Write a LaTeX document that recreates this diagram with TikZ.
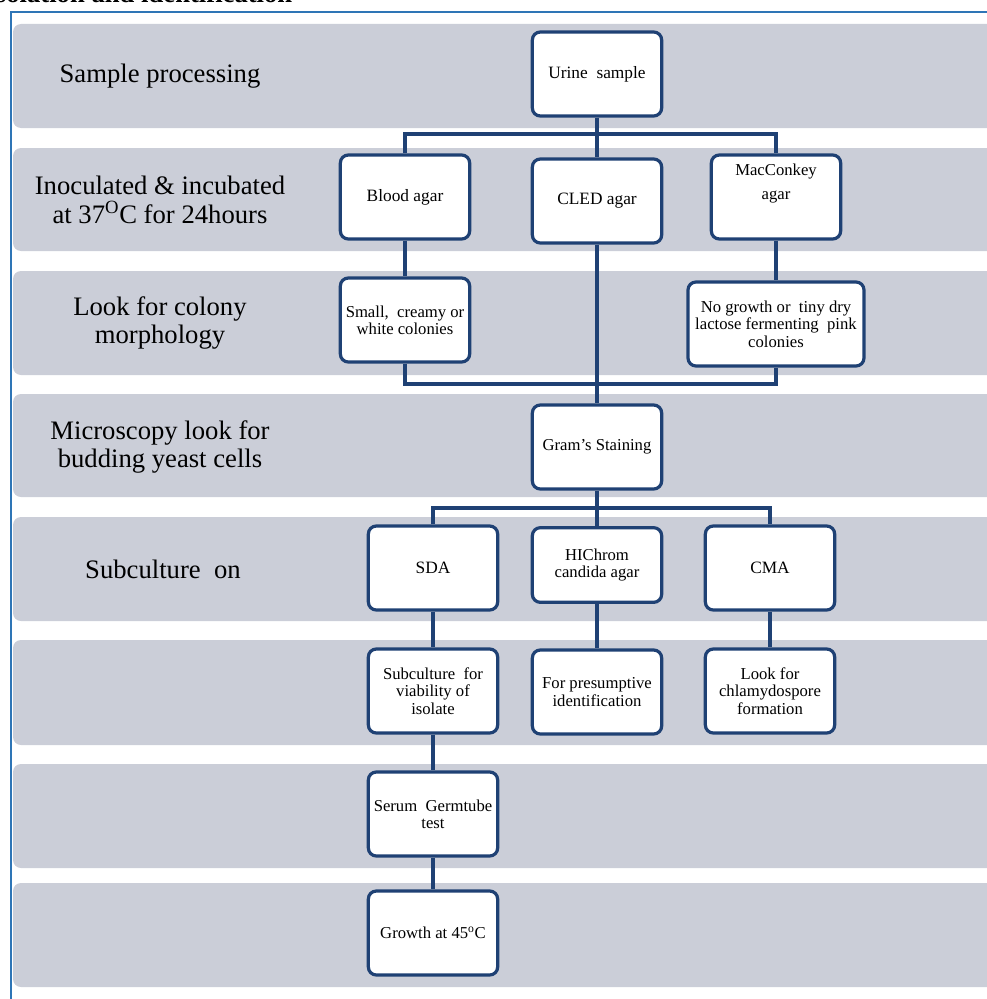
\documentclass[tikz,border=0pt]{standalone}
\usepackage{fontspec}
\setmainfont{Liberation Serif}
\usetikzlibrary{positioning}

\definecolor{bandgray}{HTML}{CBCED8}
\definecolor{boxblue}{HTML}{1F4174}
\definecolor{frameblue}{HTML}{2E75B6}

\begin{document}
\begin{tikzpicture}[x=0.75pt, y=-0.75pt,
    band/.style={fill=bandgray, rounded corners=6pt},
    steplabel/.style={align=center, font=\fontsize{20}{21.5}\selectfont},
    flowbox/.style={draw=boxblue, line width=2.4pt, fill=white, rounded corners=6pt,
      align=center, minimum width=97pt, minimum height=63pt, inner sep=2pt,
      font=\fontsize{12.5}{13}\selectfont},
    link/.style={draw=boxblue, line width=2.6pt}]

  \useasboundingbox (0,0) rectangle (987,999);
  \clip (0,0) rectangle (987,999);

  % Cut-off heading and outer frame
  \node[anchor=base east, font=\fontsize{20}{21}\selectfont\bfseries] (heading) at (297,3)
    {Isolation and identification};
  \draw[frameblue, line width=1.5pt] (11,12) rectangle (1020,1020);

  % Grey bands, one per step
  \foreach \top/\bot in {24/128, 148/251, 271/375, 394/497, 517/621, 640/745, 764/868, 883/987}
    \fill[band] (13,\top) rectangle (1010,\bot);

  % Step labels on the left
  \node[steplabel] (lab1) at (160,76)  {Sample processing};
  \node[steplabel] (lab2) at (160,200) {Inoculated \& incubated\\at 37\textsuperscript{O}C for 24hours};
  \node[steplabel] (lab3) at (160,323) {Look for colony\\morphology};
  \node[steplabel] (lab4) at (160,447) {Microscopy look for\\budding yeast cells};
  \node[steplabel] (lab5) at (163,569) {Subculture\ \ on};

  % Boxes
  \node[flowbox, font=\fontsize{13}{13}\selectfont] (urine) at (597,74)  {Urine\ \ sample};
  \node[flowbox, font=\fontsize{13}{13}\selectfont] (blood) at (405,197) {Blood agar};
  \node[flowbox, font=\fontsize{13}{13}\selectfont] (cled)  at (597,201) {CLED agar};
  \node[flowbox] (mac)   at (776,197) {};
  \node[font=\fontsize{12.5}{18}\selectfont, align=center] (mactext) at (776,184) {MacConkey\\agar};
  \node[flowbox] (creamy) at (405,320) {Small,\ \ creamy or\\white colonies};
  \node[flowbox, minimum width=132pt] (nogrowth) at (776,324)
    {No growth or\ \ tiny dry\\lactose fermenting\ \ pink\\colonies};
  \node[flowbox] (gram) at (597,447) {Gram's Staining};

  \node[flowbox, font=\fontsize{13}{13}\selectfont] (sda) at (433,568) {SDA};
  \node[flowbox, minimum height=56pt] (hichrom) at (597,565) {HIChrom\\candida agar};
  \node[flowbox, font=\fontsize{13}{13}\selectfont] (cma) at (770,568) {CMA};

  \node[flowbox] (viab)    at (433,691) {Subculture\ \ for\\viability of\\isolate};
  \node[flowbox] (presump) at (597,692) {For presumptive\\identification};
  \node[flowbox] (chlamy)  at (770,691) {Look for\\chlamydospore\\formation};

  \node[flowbox] (serum)  at (433,814) {Serum\ \ Germtube\\test};
  \node[flowbox] (growth) at (433,933) {Growth at 45\textsuperscript{o}C};

  % Bus points
  \coordinate (busA) at (597,134);
  \coordinate (busB) at (597,384);
  \coordinate (busC) at (597,508);

  % Connectors
  \draw[link] (urine.south) -- (busA) -- (cled.north);
  \draw[link] (blood.north) |- (busA) -| (mac.north);
  \draw[link] (blood) -- (creamy);
  \draw[link] (mac) -- (nogrowth);
  \draw[link] (creamy.south) |- (busB) -| (nogrowth.south);
  \draw[link] (cled.south) -- (gram.north);
  \draw[link] (gram.south) -- (busC) -- (hichrom.north);
  \draw[link] (sda.north) |- (busC) -| (cma.north);
  \draw[link] (sda) -- (viab);
  \draw[link] (hichrom) -- (presump);
  \draw[link] (cma) -- (chlamy);
  \draw[link] (viab) -- (serum);
  \draw[link] (serum) -- (growth);

\end{tikzpicture}
\end{document}
